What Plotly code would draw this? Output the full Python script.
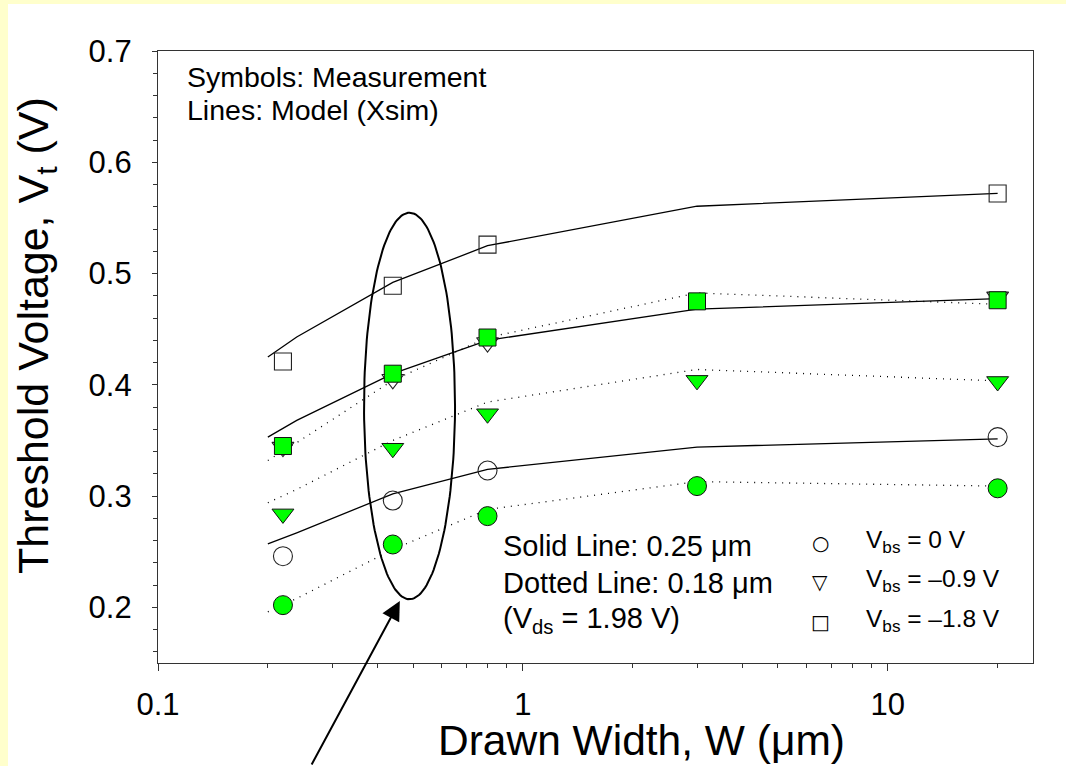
import numpy as np
import plotly.graph_objects as go

# ---------------- data ----------------
W_MEAS = [0.22, 0.44, 0.8, 3, 20]          # drawn width (um), measured
W_MODEL = [0.2, 0.24, 0.44, 0.8, 3, 20]    # drawn width (um), model

# measurements, L = 0.25 um (open symbols)
VT_025_0 = [0.246, 0.296, 0.323, None, 0.353]
VT_025_M09 = [0.344, 0.405, 0.438, None, 0.479]
VT_025_M18 = [0.421, 0.489, 0.526, None, 0.572]
# measurements, L = 0.18 um (green symbols)
VT_018_0 = [0.202, 0.2565, 0.282, 0.309, 0.307]
VT_018_M09 = [0.284, 0.343, 0.374, 0.404, 0.403]
VT_018_M18 = [0.345, 0.410, 0.4425, 0.475, 0.476]

# model (Xsim), L = 0.25 um (solid)
MOD_025_0 = [0.257, 0.267, 0.302, 0.324, 0.344, 0.3515]
MOD_025_M09 = [0.353, 0.368, 0.410, 0.440, 0.468, 0.4775]
MOD_025_M18 = [0.425, 0.443, 0.492, 0.525, 0.5605, 0.572]
# model (Xsim), L = 0.18 um (dotted)
MOD_018_0 = [0.196, 0.208, 0.252, 0.288, 0.313, 0.309]
MOD_018_M09 = [0.294, 0.306, 0.350, 0.3845, 0.4138, 0.4035]
MOD_018_M18 = [0.332, 0.348, 0.404, 0.4425, 0.4826, 0.4724]

X_TICKS = [0.1, 1, 10]
X_TICKTEXT = ["0.1", "1", "10"]
X_MINOR = [0.2, 0.3, 0.4, 0.5, 0.6, 0.7, 0.8, 0.9, 2, 3, 4, 5, 6, 7, 8, 9, 20]
Y_TICKS = [0.2, 0.3, 0.4, 0.5, 0.6, 0.7]

# highlight ellipse around W = 0.44 um
ELL_CX = 0.489
ELL_CY = 0.381
ELL_AX_DEC = 0.1247   # half width in decades
ELL_AY = 0.1737       # half height in volts
ARROW_W, ARROW_V = 0.46, 0.2058   # arrow tip

LEGEND_LABELS = ["V<sub>bs</sub> = 0 V", "V<sub>bs</sub> = \u20130.9 V", "V<sub>bs</sub> = \u20131.8 V"]
LEGEND_SYMBOLS = ["\u25cb", "\u25bd", "\u25a1"]

# ---------------- geometry ----------------
W_PX, H_PX = 1066, 766
L, R, T, B = 158, 33, 51, 103
PW, PH = W_PX - L - R, H_PX - T - B


def px(xp):
    return (xp - L) / PW


def py(yp):
    return (H_PX - B - yp) / PH


FONT = "Liberation Sans, Arial, sans-serif"
GREEN = "#00FF00"
AX = "#333333"

fig = go.Figure()

# model lines
for ys in (MOD_025_0, MOD_025_M09, MOD_025_M18):
    fig.add_trace(go.Scatter(x=W_MODEL, y=ys, mode="lines",
                             line=dict(color="black", width=1.3), hoverinfo="skip"))
for ys in (MOD_018_0, MOD_018_M09, MOD_018_M18):
    fig.add_trace(go.Scatter(x=W_MODEL, y=ys, mode="lines",
                             line=dict(color="black", width=1.3, dash="1px,6px"), hoverinfo="skip"))

# open symbols (0.25 um)
for ys, sym, sz in ((VT_025_0, "circle-open", 19), (VT_025_M09, "triangle-down-open", 19),
                    (VT_025_M18, "square-open", 17)):
    fig.add_trace(go.Scatter(x=W_MEAS, y=ys, mode="markers",
                             marker=dict(symbol=sym, size=sz, color="#222222", line=dict(width=1.1))))

# green symbols (0.18 um)
for ys, sym, sz in ((VT_018_0, "circle", 19), (VT_018_M09, "triangle-down", 19),
                    (VT_018_M18, "square", 17)):
    fig.add_trace(go.Scatter(x=W_MEAS, y=ys, mode="markers",
                             marker=dict(symbol=sym, size=sz, color=GREEN,
                                         line=dict(color="#111111", width=1))))

# ellipse
t = np.linspace(0, 2 * np.pi, 181)
fig.add_trace(go.Scatter(x=10 ** (np.log10(ELL_CX) + ELL_AX_DEC * np.cos(t)),
                         y=ELL_CY + ELL_AY * np.sin(t), mode="lines",
                         line=dict(color="black", width=2), hoverinfo="skip"))

shapes = [dict(type="rect", xref="paper", yref="paper", x0=px(8), x1=px(W_PX), y0=py(H_PX), y1=py(4),
               fillcolor="white", line=dict(width=0), layer="below")]

ann = []


def txt(text, x, y, size, xanchor="left", yanchor="middle", **kw):
    ann.append(dict(text=text, x=px(x), y=py(y), xref="paper", yref="paper", showarrow=False,
                    xanchor=xanchor, yanchor=yanchor, font=dict(size=size, family=kw.pop("family", FONT),
                                                                color="black"), **kw))


txt("Symbols: Measurement", 185, 77, 28.5)
txt("Lines: Model (Xsim)", 185, 110, 28.5)
txt("Solid Line: 0.25 \u03bcm", 501, 546, 29)
txt("Dotted Line: 0.18 \u03bcm", 501, 583, 29)
txt("(V<sub>ds</sub> = 1.98 V)", 501, 620, 29)
for i, (lab, sym) in enumerate(zip(LEGEND_LABELS, LEGEND_SYMBOLS)):
    yy = [541, 580, 620][i]
    txt(sym, 820, yy + 2, 20, xanchor="center", family="DejaVu Sans")
    txt(lab, 864, yy, 24.5)

# axis titles
txt("Threshold Voltage, V<sub>t</sub> (V)", 36, 336, 43, xanchor="center", textangle=-90)
txt("Drawn Width, W (\u03bcm)", 641, 740, 42.5, xanchor="center")

# arrow pointing at ellipse
ann.append(dict(x=np.log10(ARROW_W), y=ARROW_V, xref="x", yref="y", ax=-89, ay=168,
                axref="pixel", ayref="pixel", showarrow=True, arrowhead=2, arrowsize=1.9,
                arrowwidth=2, arrowcolor="black", text=""))

fig.update_layout(
    width=W_PX, height=H_PX,
    margin=dict(l=L, r=R, t=T, b=B, autoexpand=False),
    paper_bgcolor="#FFFFCC", plot_bgcolor="white",
    showlegend=False, font=dict(family=FONT, color="black"),
    shapes=shapes, annotations=ann,
    xaxis=dict(type="log", range=[-1, np.log10(25)], showline=True, mirror=True,
               linecolor=AX, linewidth=1.2, ticks="outside", ticklen=7, tickcolor=AX, tickwidth=1,
               tickvals=X_TICKS, ticktext=X_TICKTEXT, tickfont=dict(size=31, family=FONT, color="black"),
               showgrid=False, zeroline=False, ticklabelstandoff=7,
               minor=dict(ticks="outside", ticklen=4, tickcolor=AX, tickvals=X_MINOR, showgrid=False)),
    yaxis=dict(range=[0.15, 0.7], showline=True, mirror=True, linecolor=AX, linewidth=1.2,
               ticks="outside", ticklen=5, tickcolor=AX, tickwidth=1, tickvals=Y_TICKS,
               tickformat=".1f", tickfont=dict(size=31, family=FONT, color="black"),
               showgrid=False, zeroline=False, ticklabelstandoff=14,
               minor=dict(ticks="outside", ticklen=4, tickcolor=AX, dtick=0.02, tick0=0,
                          showgrid=False)),
)

fig.write_html("out.html")
